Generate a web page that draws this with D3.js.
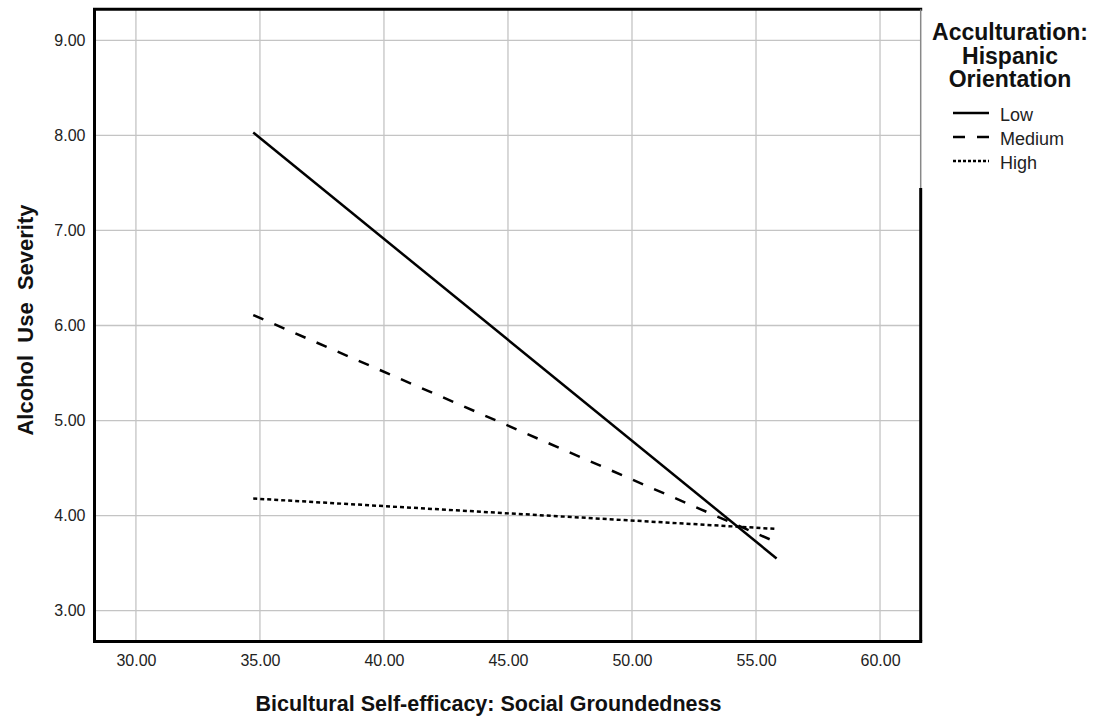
<!DOCTYPE html>
<html>
<head>
<meta charset="utf-8">
<script src="https://cdn.jsdelivr.net/npm/d3@7"></script>
<style>
  html, body { margin: 0; padding: 0; background: #fff; }
  svg { display: block; font-family: "Liberation Sans", Arial, sans-serif; }
</style>
</head>
<body>
<svg id="chart" width="1103" height="722"></svg>
<script>
// ---- data ----
const groups = ["Low", "Medium", "High"];
const xValues = [34.73, 55.83];
const lowValues = [8.03, 3.55];
const mediumValues = [6.11, 3.72];
const highValues = [4.18, 3.86];
const xTicks = [30, 35, 40, 45, 50, 55, 60];
const yTicks = [3, 4, 5, 6, 7, 8, 9];
const xDomain = [28.33, 61.64];
const yDomain = [2.676, 9.326];
const xTitle = "Bicultural Self-efficacy: Social Groundedness";
const yTitle = "Alcohol\u00A0 Use\u00A0 Severity";
const legendTitle = ["Acculturation:", "Hispanic", "Orientation"];

const series = [
  { name: groups[0], values: lowValues, dash: null, legendDash: null },
  { name: groups[1], values: mediumValues, dash: "11,12", legendDash: "12,12" },
  { name: groups[2], values: highValues, dash: "4,3", legendDash: "3,2" }
];

// ---- layout ----
const L = 94.5, R = 920.7, T = 9.3, B = 641.5;
const svg = d3.select("#chart");
const x = d3.scaleLinear().domain(xDomain).range([L, R]);
const y = d3.scaleLinear().domain(yDomain).range([B, T]);

// gridlines
const grid = svg.append("g");
grid.selectAll("line.v").data(xTicks).enter().append("line")
  .attr("x1", d => x(d)).attr("x2", d => x(d))
  .attr("y1", T).attr("y2", B)
  .attr("stroke", "#c4c4c4").attr("stroke-width", 1.3);
grid.selectAll("line.h").data(yTicks).enter().append("line")
  .attr("x1", L).attr("x2", R)
  .attr("y1", d => y(d)).attr("y2", d => y(d))
  .attr("stroke", "#c4c4c4").attr("stroke-width", 1.3);

// axes (labels only)
const xAxis = svg.append("g").attr("transform", `translate(0,${B})`)
  .call(d3.axisBottom(x).tickValues(xTicks).tickFormat(d3.format(".2f")).tickSize(0).tickPadding(13));
const yAxis = svg.append("g").attr("transform", `translate(${L},0)`)
  .call(d3.axisLeft(y).tickValues(yTicks).tickFormat(d3.format(".2f")).tickSize(0).tickPadding(9));
[xAxis, yAxis].forEach(a => {
  a.select(".domain").remove();
  a.selectAll("text").attr("font-size", 16).attr("fill", "#222")
    .attr("font-family", "'Liberation Sans', Arial, sans-serif");
});

// lines
const line = d3.line().x(d => x(d[0])).y(d => y(d[1]));
svg.append("g").selectAll("path").data(series).enter().append("path")
  .attr("d", s => line(xValues.map((xv, i) => [xv, s.values[i]])))
  .attr("fill", "none").attr("stroke", "#000").attr("stroke-width", 2.5)
  .attr("stroke-dasharray", s => s.dash);

// frame
const frame = svg.append("g").attr("stroke", "#000").attr("stroke-width", 3).attr("fill", "none");
frame.append("line").attr("x1", L - 1.5).attr("x2", R + 1.5).attr("y1", T).attr("y2", T);
frame.append("line").attr("x1", L - 1.5).attr("x2", R + 1.5).attr("y1", B).attr("y2", B);
frame.append("line").attr("x1", L).attr("x2", L).attr("y1", T).attr("y2", B);
frame.append("line").attr("x1", R).attr("x2", R).attr("y1", 188).attr("y2", B);
svg.append("line").attr("x1", R).attr("x2", R).attr("y1", T).attr("y2", 188)
  .attr("stroke", "#888").attr("stroke-width", 1.5);

// axis titles
svg.append("text").attr("x", 488.5).attr("y", 711)
  .attr("text-anchor", "middle").attr("font-size", 21.5).attr("font-weight", "bold")
  .attr("fill", "#111").text(xTitle);
svg.append("text").attr("transform", `translate(33,${320}) rotate(-90)`)
  .attr("text-anchor", "middle").attr("font-size", 22).attr("font-weight", "bold")
  .attr("fill", "#111").text(yTitle);

// legend
const lg = svg.append("g");
lg.selectAll("text.t").data(legendTitle).enter().append("text")
  .attr("x", 1010).attr("y", (d, i) => 40 + i * 23.5)
  .attr("text-anchor", "middle").attr("font-size", 23).attr("font-weight", "bold")
  .attr("fill", "#111").text(d => d);
const items = lg.selectAll("g.item").data(series).enter().append("g")
  .attr("transform", (d, i) => `translate(0,${113 + i * 24})`);
items.append("line").attr("x1", 953).attr("x2", 989).attr("y1", 0).attr("y2", 0)
  .attr("stroke", "#000").attr("stroke-width", 2.5)
  .attr("stroke-dasharray", d => d.legendDash);
items.append("text").attr("x", 1000).attr("y", 8).attr("font-size", 18)
  .attr("fill", "#222").text(d => d.name);
</script>
</body>
</html>
